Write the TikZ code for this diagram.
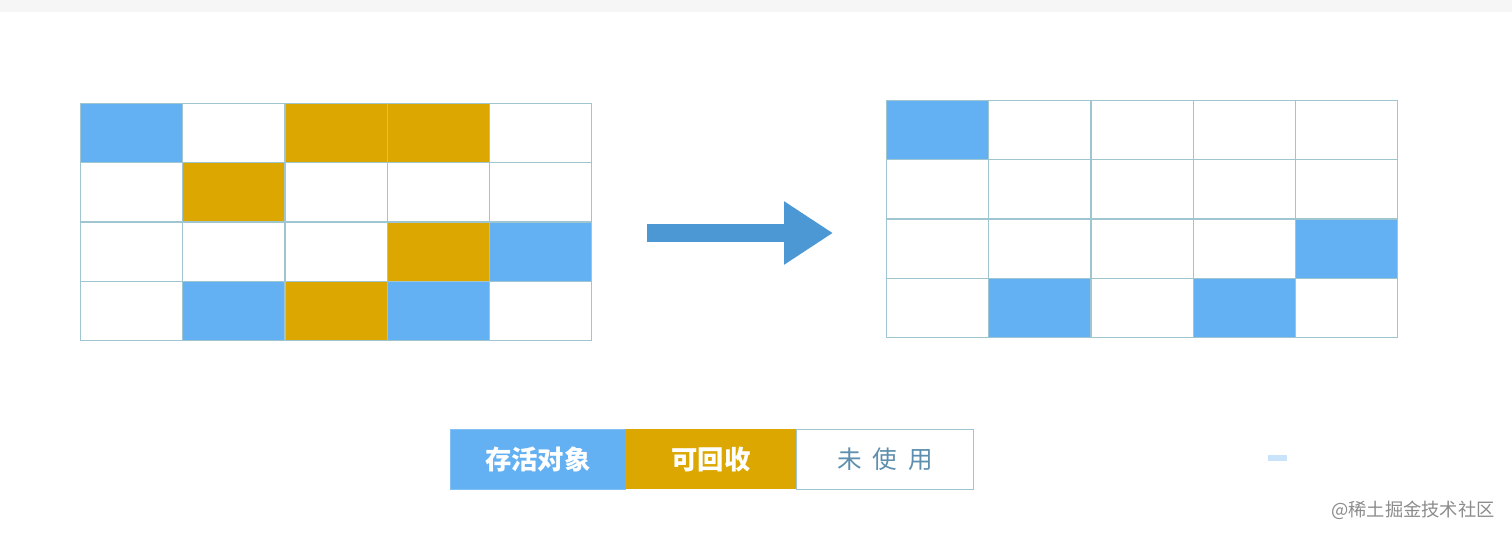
\documentclass[tikz,border=0pt]{standalone}
\usepackage{fontspec}
\newfontfamily\cjk{Noto Sans CJK SC}
\usetikzlibrary{arrows.meta}
\definecolor{live}{HTML}{63B0F2}
\definecolor{gold}{HTML}{DBA700}
\definecolor{gridline}{HTML}{9FC6D0}
\definecolor{arrowc}{HTML}{4B98D5}
\definecolor{unused}{HTML}{5E8FAE}
\definecolor{topstrip}{HTML}{F6F6F6}
\begin{document}
\begin{tikzpicture}[x=0.02cm,y=-0.02cm,
  cell/.style={draw=gridline, line width=0.7pt, minimum width=2.044cm, minimum height=1.185cm, inner sep=0pt, anchor=north west},
  legendbox/.style={minimum height=1.2cm, inner sep=0pt, anchor=north west, font=\cjk\bfseries\fontsize{15}{18}\selectfont, text=white},
  bigarrow/.style={arrowc, line width=0.36cm, -{Triangle[length=0.98cm,width=1.2cm]}}]
\useasboundingbox (0,0) rectangle (1512,537);
\fill[white] (0,0) rectangle (1512,537);
\fill[topstrip] (0,0) rectangle (1512,12);
% left grid
\foreach \row [count=\r from 0] in {{live,white,gold,gold,white},{white,gold,white,white,white},{white,white,white,gold,live},{white,live,gold,live,white}}{
  \foreach \c [count=\k from 0] in \row {
    \node[cell, fill=\c] (L\r\k) at ({80+102.2*\k},{103+59.25*\r}) {};
  }
}
% right grid
\foreach \row [count=\r from 0] in {{live,white,white,white,white},{white,white,white,white,white},{white,white,white,white,live},{white,live,white,live,white}}{
  \foreach \c [count=\k from 0] in \row {
    \node[cell, fill=\c] (R\r\k) at ({886+102.2*\k},{100+59.25*\r}) {};
  }
}
% arrow
\coordinate (a1) at (647,233);
\coordinate (a2) at (833,233);
\draw[bigarrow] (a1) -- (a2);
% legend
\node[legendbox, fill=live, draw=live!80!white, minimum width=3.5cm] (leg1) at (450,429) {存活对象};
\node[legendbox, fill=gold, minimum width=3.42cm] (leg2) at (625,429) {可回收};
\node[legendbox, fill=white, draw=gridline, line width=0.7pt, minimum width=3.54cm, text=unused, font=\cjk\fontsize{14}{18}\selectfont] (leg3) at (796,429) {未\hspace{0.45em}使\hspace{0.45em}用};
% small mark
\fill[live!35!white] (1268,455) rectangle (1287,461);
% watermark
\node[anchor=east, inner sep=0pt, text=black!45, font=\cjk\fontsize{10.4}{13}\selectfont] (wm) at (1495,510) {@稀土掘金技术社区};
\end{tikzpicture}
\end{document}
